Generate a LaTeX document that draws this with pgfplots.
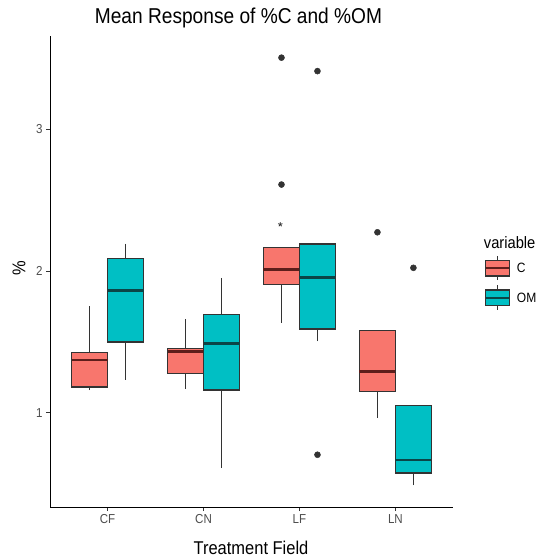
\documentclass[border=0pt]{standalone}
\usepackage{pgfplots}
\pgfplotsset{compat=1.18}
\usepgfplotslibrary{statistics}
\usepackage{fontspec}
\setmainfont{Liberation Sans}[FakeStretch=0.89]
\definecolor{cC}{HTML}{F8766D}
\definecolor{cOM}{HTML}{00BFC4}
\definecolor{g20}{HTML}{333333}
\definecolor{g30}{HTML}{4D4D4D}
\definecolor{mC}{HTML}{5E1E1B}
\definecolor{mOM}{HTML}{0B4547}
\begin{document}
\begin{tikzpicture}[x=1pt,y=1pt]
\useasboundingbox (0,0) rectangle (540,558);
\begin{axis}[at={(50pt,51pt)}, anchor=south west, scale only axis,
  width=403pt, height=471pt,
  xmin=0.4, xmax=4.6, ymin=0.334, ymax=3.66,
  axis x line*=bottom, axis y line*=left,
  axis line style={line width=1pt, black},
  xtick={1,2,3,4}, xticklabels={CF,CN,LF,LN}, ytick={1,2,3},
  tick align=outside, major tick length=4pt,
  tick style={g20, line width=1pt},
  ticklabel style={font=\fontsize{13}{15}\selectfont, text=g30},
  /pgf/number format/assume math mode=true,
  boxplot/draw direction=y,
  boxplot/box extend=0.375, boxplot/whisker extend=0,
  boxplot/every whisker/.style={line width=1.3pt},
  boxplot/every box/.style={line width=1.3pt},
  clip=false]
\pgfplotsset{
  bC/.style={draw=g20, fill=cC, line width=1.3pt, mark=*, mark size=3pt,
     mark options={fill=g20, draw=g20, line width=0.5pt}, boxplot/every median/.style={draw=mC, line width=2.4pt}},
  bOM/.style={draw=g20, fill=cOM, line width=1.3pt, mark=*, mark size=3pt,
     mark options={fill=g20, draw=g20, line width=0.5pt}, boxplot/every median/.style={draw=mOM, line width=2.4pt}},
}
% CF
\addplot[bC, boxplot prepared={draw position=0.8125, lower whisker=1.158, lower quartile=1.182,
  median=1.370, upper quartile=1.426, upper whisker=1.751}] coordinates {};
\addplot[bOM, boxplot prepared={draw position=1.1875, lower whisker=1.231, lower quartile=1.500,
  median=1.864, upper quartile=2.088, upper whisker=2.194}] coordinates {};
% CN
\addplot[bC, boxplot prepared={draw position=1.8125, lower whisker=1.167, lower quartile=1.278,
  median=1.433, upper quartile=1.454, upper whisker=1.662}] coordinates {};
\addplot[bOM, boxplot prepared={draw position=2.1875, lower whisker=0.609, lower quartile=1.160,
  median=1.488, upper quartile=1.693, upper whisker=1.952}] coordinates {};
% LF
\addplot[bC, boxplot prepared={draw position=2.8125, lower whisker=1.634, lower quartile=1.905,
  median=2.011, upper quartile=2.164, upper whisker=2.164}] table[row sep=\\, y index=0] {v\\ 3.507\\ 2.611\\};
\addplot[bOM, boxplot prepared={draw position=3.1875, lower whisker=1.504, lower quartile=1.592,
  median=1.956, upper quartile=2.192, upper whisker=2.192}] table[row sep=\\, y index=0] {v\\ 3.412\\ 0.703\\};
% LN
\addplot[bC, boxplot prepared={draw position=3.8125, lower whisker=0.962, lower quartile=1.151,
  median=1.292, upper quartile=1.582, upper whisker=1.582}] table[row sep=\\, y index=0] {v\\ 2.274\\};
\addplot[bOM, boxplot prepared={draw position=4.1875, lower whisker=0.486, lower quartile=0.574,
  median=0.668, upper quartile=1.052, upper whisker=1.052}] table[row sep=\\, y index=0] {v\\ 2.023\\};
% star annotation
\addplot[only marks, mark=star, mark size=2.3pt, g20, line width=0.8pt] coordinates {(2.80,2.33)};
\end{axis}
% titles
\node[anchor=base, font=\fontsize{21.5}{24}\selectfont, text=black] at (238.5,534) {Mean Response of \%C and \%OM};
\node[anchor=base, font=\fontsize{18.5}{21}\selectfont, text=black] at (251,3) {Treatment Field};
\node[rotate=90, font=\fontsize{18.5}{21}\selectfont, text=black] at (19,289.5) {\%};
% legend
\node[font=\fontsize{16.5}{19}\selectfont, text=black] at (509.7,315.3) {variable};
\draw[g20, line width=1.2pt] (497.5,278) -- (497.5,302);
\draw[g20, line width=1.2pt, fill=cC] (485.7,282) rectangle (509.3,297.3);
\draw[mC, line width=2pt] (485.7,289.7) -- (509.3,289.7);
\node[anchor=west, inner sep=0pt, font=\fontsize{13.5}{15}\selectfont, text=black] at (516.7,289.7) {C};
\draw[g20, line width=1.2pt] (497.5,248) -- (497.5,273);
\draw[g20, line width=1.2pt, fill=cOM] (485.7,252.3) rectangle (509.3,268);
\draw[mOM, line width=2pt] (485.7,260.2) -- (509.3,260.2);
\node[anchor=west, inner sep=0pt, font=\fontsize{13.5}{15}\selectfont, text=black] at (516.7,260.2) {OM};
\end{tikzpicture}
\end{document}
